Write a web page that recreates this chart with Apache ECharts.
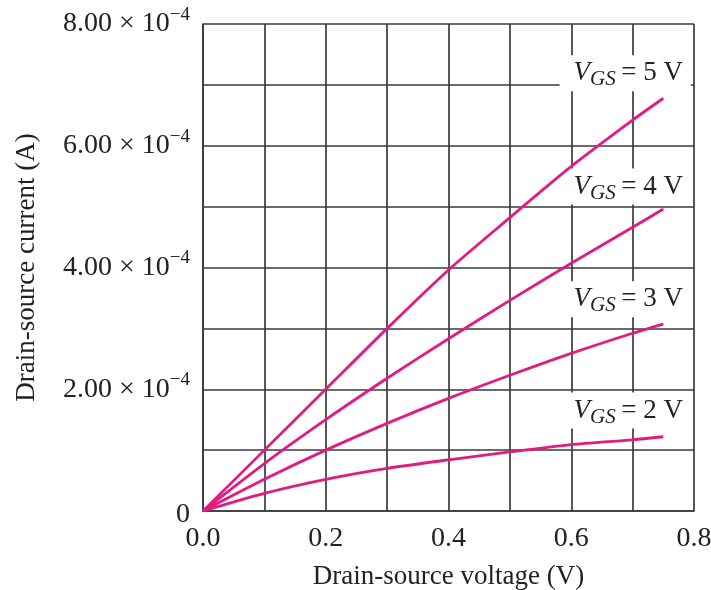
<!DOCTYPE html>
<html>
<head>
<meta charset="utf-8">
<script src="https://cdn.jsdelivr.net/npm/echarts@6/dist/echarts.min.js"></script>
<style>
html,body{margin:0;padding:0;background:#fff;}
#chart{width:711px;height:590px;}
</style>
</head>
<body>
<div id="chart"></div>
<script>
// ---- data ----
const vds = [0, 0.1, 0.2, 0.3, 0.4, 0.5, 0.6, 0.7, 0.75];
const id5 = [0, 1.0e-4, 2.0e-4, 3.0e-4, 3.96e-4, 4.82e-4, 5.66e-4, 6.42e-4, 6.78e-4];
const id4 = [0, 0.78e-4, 1.5e-4, 2.18e-4, 2.83e-4, 3.46e-4, 4.07e-4, 4.66e-4, 4.96e-4];
const id3 = [0, 0.52e-4, 1.0e-4, 1.44e-4, 1.85e-4, 2.23e-4, 2.59e-4, 2.92e-4, 3.07e-4];
const id2 = [0, 0.29e-4, 0.52e-4, 0.70e-4, 0.84e-4, 0.97e-4, 1.09e-4, 1.17e-4, 1.22e-4];
const vgsLabels = ['5', '4', '3', '2'];
const xTickLabels = ['0.0', '0.2', '0.4', '0.6', '0.8'];
const yTickMantissa = ['0', '2.00', '4.00', '6.00', '8.00'];
const yTickExponent = '\u22124';
const xTitle = 'Drain-source voltage (V)';
const yTitle = 'Drain-source current (A)';

// ---- label anchor positions (data units) ----
const labelAnchors = [[0.688, 7.19e-4], [0.688, 5.33e-4], [0.688, 3.48e-4], [0.688, 1.65e-4]];

const FONT = "'Liberation Serif','DejaVu Serif',serif";
const LINE = '#e01c80';
const GRID = '#3a3a3a';
const TXT = '#222';

function zip(xs, ys) { return xs.map((x, i) => [x, ys[i]]); }

const seriesData = [id5, id4, id3, id2];
const series = seriesData.map((ys, i) => ({
  type: 'line',
  data: zip(vds, ys),
  smooth: 0.25,
  symbol: 'none',
  lineStyle: { color: LINE, width: 2.8 },
  z: 6,
  markPoint: {
    z: 4,
    symbol: 'circle',
    symbolSize: 1,
    itemStyle: { color: 'rgba(0,0,0,0)' },
    data: [{ coord: labelAnchors[i] }],
    label: {
      show: true,
      position: 'inside',
      backgroundColor: '#fff',
      padding: [1, 8, 1, 14],
      formatter: '{v|V}{sub|GS}{t|\u2009= ' + vgsLabels[i] + ' V}',
      rich: {
        v: { fontFamily: FONT, fontSize: 27, fontStyle: 'italic', color: TXT },
        sub: { fontFamily: FONT, fontSize: 21, fontStyle: 'italic', color: TXT, padding: [13, 0, 0, 0] },
        t: { fontFamily: FONT, fontSize: 27, color: TXT }
      }
    }
  }
}));

const chart = echarts.init(document.getElementById('chart'), null, { renderer: 'canvas' });
chart.setOption({
  animation: false,
  backgroundColor: '#fff',
  grid: { left: 203, right: 17, top: 24, bottom: 79, containLabel: false, outerBoundsMode: 'none' },
  xAxis: {
    type: 'value', min: 0, max: 0.8, interval: 0.1,
    name: xTitle, nameLocation: 'middle', nameGap: 52,
    nameTextStyle: { fontFamily: FONT, fontSize: 27, color: TXT },
    axisLine: { show: true, lineStyle: { color: GRID, width: 1.7 } },
    axisTick: { show: false },
    splitLine: { show: true, lineStyle: { color: GRID, width: 1.7 } },
    axisLabel: {
      fontFamily: FONT, fontSize: 28, color: TXT, margin: 14,
      formatter: function (v) {
        const k = Math.round(v * 10);
        return k % 2 ? '' : xTickLabels[k / 2];
      }
    }
  },
  yAxis: {
    type: 'value', min: 0, max: 8e-4, interval: 1e-4,
    name: yTitle, nameLocation: 'middle', nameGap: 163,
    nameTextStyle: { fontFamily: FONT, fontSize: 27, color: TXT },
    axisLine: { show: true, lineStyle: { color: GRID, width: 1.7 } },
    axisTick: { show: false },
    splitLine: { show: true, lineStyle: { color: GRID, width: 1.7 } },
    axisLabel: {
      margin: 13,
      formatter: function (v) {
        const k = Math.round(v * 1e4);
        if (k % 2) return '';
        if (k === 0) return '{z|' + yTickMantissa[0] + '}';
        return '{n|' + yTickMantissa[k / 2] + ' \u00d7 10}{s|' + yTickExponent + '}';
      },
      rich: {
        n: { fontFamily: FONT, fontSize: 28, color: TXT },
        s: { fontFamily: FONT, fontSize: 19, color: TXT, padding: [0, 0, 18, 0] },
        z: { fontFamily: FONT, fontSize: 28, color: TXT, padding: [8, 0, 0, 0] }
      }
    }
  },
  series: series
});
</script>
</body>
</html>
